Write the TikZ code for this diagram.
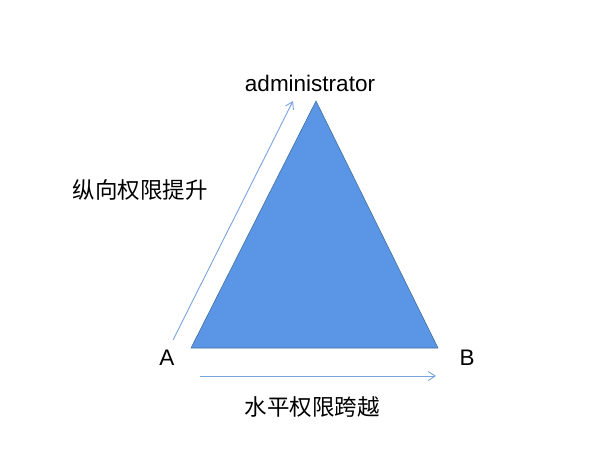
\documentclass[tikz,border=0pt]{standalone}
\usepackage{fontspec}
\setmainfont{Liberation Sans}
\newfontfamily\cjk{Noto Sans CJK SC}
\usetikzlibrary{arrows.meta}
\definecolor{trifill}{HTML}{5B95E5}
\definecolor{tristroke}{HTML}{41719C}
\definecolor{arrowblue}{HTML}{7BA3DE}
\tikzset{
  lbl/.style={inner sep=0pt, font=\fontsize{22.5}{26}\selectfont},
  cjklbl/.style={inner sep=0pt, font=\fontsize{22.5}{26}\selectfont\cjk},
  arr/.style={draw=arrowblue, line width=0.9pt, -{Straight Barb[length=7pt,width=9pt,line width=0.9pt]}}
}
\begin{document}
\begin{tikzpicture}[x=1pt,y=-1pt]
\useasboundingbox (0,0) rectangle (607,467);
\fill[white] (0,0) rectangle (607,467);
\coordinate (apex) at (316,101);
\coordinate (bl) at (191,348);
\coordinate (br) at (438,348);
\filldraw[fill=trifill, draw=tristroke, line width=0.6pt] (apex) -- (bl) -- (br) -- cycle;
\node[lbl] (admin) at (310,83) {administrator};
\node[lbl] (A) at (167,358) {A};
\node[lbl] (B) at (467,358) {B};
\node[cjklbl] (vert) at (140,190) {纵向权限提升};
\node[cjklbl] (horiz) at (312,407) {水平权限跨越};
\coordinate (v1) at (173,340);
\coordinate (v2) at (293,101);
\coordinate (h1) at (200,376);
\coordinate (h2) at (436,376);
\draw[arr] (v1) -- (v2);
\draw[arr] (h1) -- (h2);
\end{tikzpicture}
\end{document}
